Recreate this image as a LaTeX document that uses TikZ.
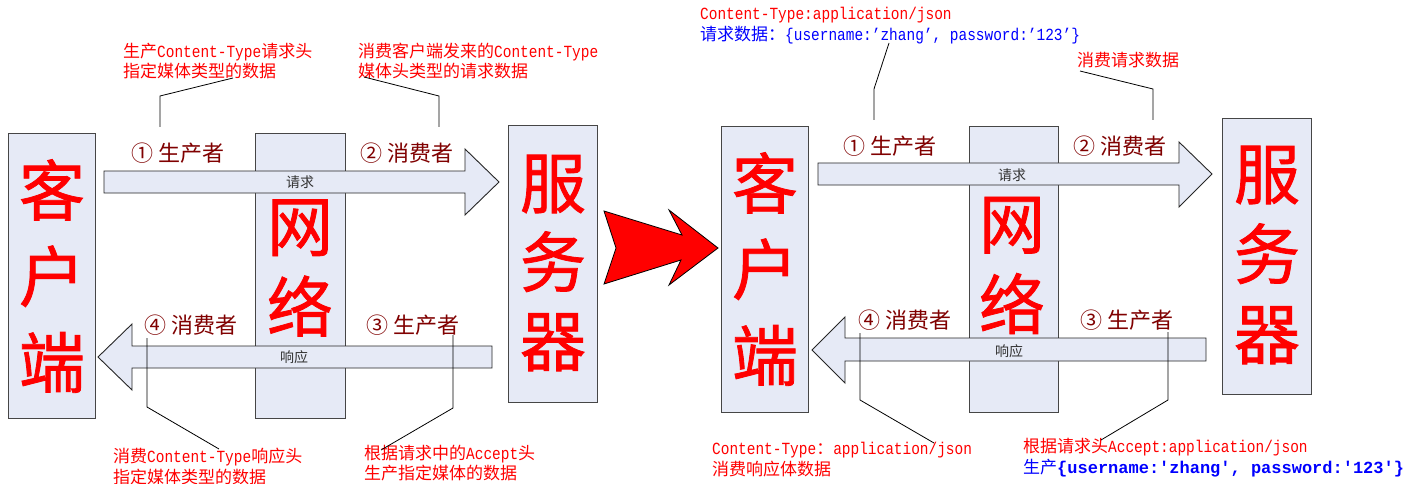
\documentclass[tikz,border=0pt]{standalone}
\usepackage{fontspec}
\setmainfont{Liberation Serif}
\newfontfamily\cjk{Noto Sans CJK SC}
\newfontfamily\cjkbig[FakeBold=1.2]{Noto Sans CJK SC}
\newfontfamily\mono[FakeStretch=0.85]{Liberation Mono}
\newfontfamily\monow{Liberation Mono}
\newcommand{\cn}[1]{{\cjk #1}}
\definecolor{boxfill}{RGB}{230,234,246}
\definecolor{boxline}{RGB}{70,70,70}
\definecolor{maroon}{RGB}{128,0,0}
\definecolor{calred}{RGB}{255,0,0}
\definecolor{calblue}{RGB}{0,0,255}
\tikzset{
  bigbox/.style={draw=boxline,fill=boxfill,line width=1pt,inner sep=0pt},
  bigtxt/.style={text=red,align=center,inner sep=0pt,font=\cjkbig\fontsize{66}{#1}\selectfont},
  blockarrow/.style={draw=black!85,fill=boxfill,line width=0.9pt,line join=miter},
  rolelbl/.style={text=maroon,inner sep=0pt,font=\cjk\fontsize{22}{26}\selectfont},
  arrowlbl/.style={text=black!80,inner sep=0pt,font=\cjk\fontsize{14}{16}\selectfont},
  callout/.style={text=calred,align=left,anchor=west,inner sep=0pt,font=\mono\fontsize{17}{20.5}\selectfont},
  leader/.style={draw=black,line width=0.8pt},
}
\begin{document}
\begin{tikzpicture}[x=1pt,y=-1pt]
\useasboundingbox (0,0) rectangle (1427,484);
\fill[white] (0,0) rectangle (1427,484);

% ---------- left diagram ----------
\node[bigbox,minimum width=87pt,minimum height=284pt] (cl1) at (51.5,276) {};
\node[bigbox,minimum width=90pt,minimum height=284pt] (net1) at (300,276) {};
\node[bigbox,minimum width=89pt,minimum height=276pt] (srv1) at (552.5,264) {};
\node[bigtxt=86] (cl1t) at (52,276) {客\\户\\端};
\node[bigtxt=81] (net1t) at (300,268) {网\\络};
\node[bigtxt=79] (srv1t) at (553,263) {服\\务\\器};

\draw[blockarrow] (104,171) -- (465,171) -- (465,149) -- (499,182) -- (465,215) -- (465,193) -- (104,193) -- cycle;
\node[arrowlbl] (req1) at (300,182) {请求};
\draw[blockarrow] (492,346) -- (132,346) -- (132,324) -- (98,357) -- (132,390) -- (132,368) -- (492,368) -- cycle;
\node[arrowlbl] (res1) at (294,357) {响应};

\node[rolelbl] (p1) at (178,153) {① 生产者};
\node[rolelbl] (c2) at (407,153) {② 消费者};
\node[rolelbl] (c4) at (191,325) {④ 消费者};
\node[rolelbl] (p3) at (413,325) {③ 生产者};

\node[callout] (n1) at (123,61) {\cn{生产}Content-Type\cn{请求头}\\\cn{指定媒体类型的数据}};
\node[callout] (n2) at (358,61) {\cn{消费客户端发来的}Content-Type\\\cn{媒体头类型的请求数据}};
\node[callout] (n4) at (113,466.5) {\cn{消费}Content-Type\cn{响应头}\\\cn{指定媒体类型的数据}};
\node[callout] (n3) at (364,463) {\cn{根据请求中的}Accept\cn{头}\\\cn{生产指定媒体的数据}};

\draw[leader] (160,127) -- (160,96) -- (233,78);
\draw[leader] (439,127) -- (439,96) -- (364,77);
\draw[leader] (147,338) -- (147,407) -- (219,449);
\draw[leader] (453,335) -- (453,408) -- (381,450);

% ---------- big red arrow ----------
\draw[fill=red,draw=black,line width=0.8pt,line join=miter] (604,211) -- (682,235) -- (669,210) -- (718,248) -- (669,285) -- (681,260) -- (604,284) -- (616,248) -- cycle;

% ---------- right diagram ----------
\node[bigbox,minimum width=87pt,minimum height=285pt] (cl2) at (764.5,269.5) {};
\node[bigbox,minimum width=89pt,minimum height=285pt] (net2) at (1013.5,269.5) {};
\node[bigbox,minimum width=89pt,minimum height=275pt] (srv2) at (1266.5,256.5) {};
\node[bigtxt=86] (cl2t) at (765,269) {客\\户\\端};
\node[bigtxt=81] (net2t) at (1012,265.5) {网\\络};
\node[bigtxt=80] (srv2t) at (1267,255) {服\\务\\器};

\draw[blockarrow] (818,163) -- (1179,163) -- (1179,142) -- (1212,174) -- (1179,207) -- (1179,185) -- (818,185) -- cycle;
\node[arrowlbl] (req2) at (1012,175) {请求};
\draw[blockarrow] (1206,338) -- (845,338) -- (845,317) -- (812,350) -- (845,383) -- (845,361) -- (1206,361) -- cycle;
\node[arrowlbl] (res2) at (1009,351) {响应};

\node[rolelbl] (rp1) at (890,146) {① 生产者};
\node[rolelbl] (rc2) at (1120,146) {② 消费者};
\node[rolelbl] (rc4) at (905,320) {④ 消费者};
\node[rolelbl] (rp3) at (1127,320) {③ 生产者};

\node[callout] (m1) at (700,25.5) {Content-Type:application/json\\\textcolor{calblue}{\cn{请求数据：}\{username:’zhang’, password:’123’\}}};
\node[callout] (m2) at (1077,60) {\cn{消费请求数据}};
\node[callout] (m4) at (712,459.5) {Content-Type\cn{：}application/json\\\cn{消费响应体数据}};
\node[callout] (m3) at (1023,457.5) {\cn{根据请求头}Accept:application/json\\\textcolor{calblue}{\cn{生产}{\monow\bfseries\{username:'zhang', password:'123'\}}}};

\draw[leader] (874,120) -- (874,89) -- (889,43);
\draw[leader] (1153,120) -- (1153,89) -- (1080,71);
\draw[leader] (860,333) -- (860,400) -- (934,443);
\draw[leader] (1168,332) -- (1168,400) -- (1101,440);
\end{tikzpicture}
\end{document}
